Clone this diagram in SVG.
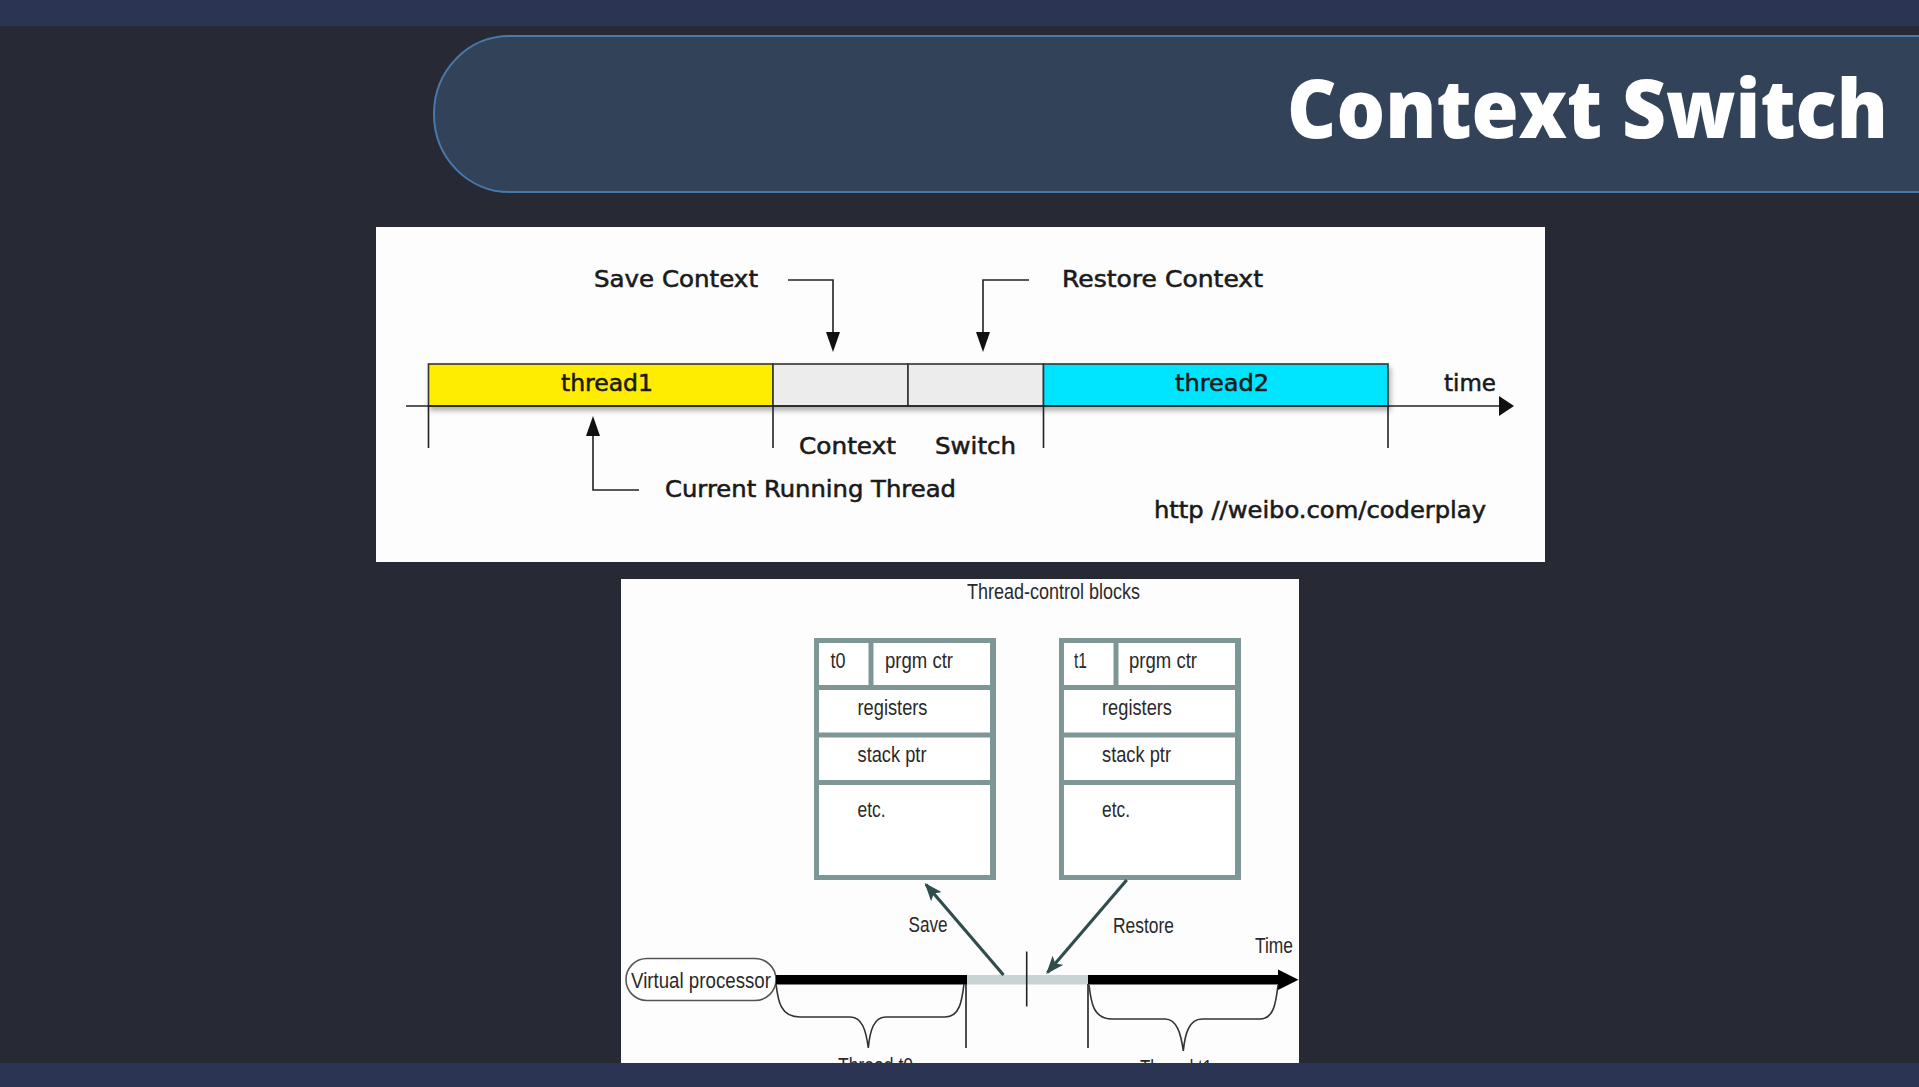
<svg xmlns="http://www.w3.org/2000/svg" width="1919" height="1087" viewBox="0 0 1919 1087">
  <style>
    .lbl { font-family: "DejaVu Sans", sans-serif; font-size: 23px; fill: #1a1a1a; stroke: #1a1a1a; stroke-width: 0.55px; }
    .ln { stroke: #222; stroke-width: 1.6; fill: none; }
    .seg { stroke: #333; stroke-width: 1.6; }
    .tcb { font-family: "Liberation Sans", Arial, sans-serif; font-size: 21.5px; fill: #2a2a2a; }
    .cell { fill: #ffffff; }
    .frame { fill: #7f9696; }
    .brace { stroke: #333; stroke-width: 1.6; fill: none; }
    .mv { stroke: #2f4d4d; stroke-width: 3.2; fill: none; marker-end: url(#tealHead); }
  </style>
  <defs>
    <marker id="tealHead" viewBox="0 0 18 14" refX="16" refY="7" markerWidth="18" markerHeight="14" markerUnits="userSpaceOnUse" orient="auto">
      <path d="M0,0 L18,7 L0,14 L4,7 z" fill="#2f4d4d"/>
    </marker>
    <filter id="barShadow" x="-5%" y="-30%" width="115%" height="180%">
      <feDropShadow dx="2" dy="4" stdDeviation="2.5" flood-color="#000" flood-opacity="0.3"/>
    </filter>
  </defs>

  <!-- page background and frame bars -->
  <rect x="0" y="0" width="1919" height="1087" fill="#272a35"/>
  <rect x="0" y="0" width="1919" height="26" fill="#2b3553"/>

  <!-- title banner -->
  <g id="title">
    <rect x="434" y="36" width="1600" height="156" rx="75" ry="78" fill="#324359" stroke="#4a78aa" stroke-width="2"/>
    <g transform="translate(1287,138) scale(1,1.16)">
      <text x="0" y="0" font-family="'Open Sans', sans-serif" font-weight="800" font-size="70" fill="#ffffff" textLength="601" lengthAdjust="spacingAndGlyphs">Context Switch</text>
    </g>
  </g>

  <!-- timeline panel -->
  <g id="timeline-panel">
    <rect x="376" y="227" width="1169" height="335" fill="#fdfdfd"/>

    <g id="bar" filter="url(#barShadow)">
      <rect id="thread1" x="428.5" y="364" width="344.5" height="42" fill="#ffed00" class="seg"/>
      <rect id="ctx-save" x="773" y="364" width="135" height="42" fill="#ececec" class="seg"/>
      <rect id="ctx-restore" x="908" y="364" width="135.5" height="42" fill="#ececec" class="seg"/>
      <rect id="thread2" x="1043.5" y="364" width="344.5" height="42" fill="#00e5ff" class="seg"/>
    </g>

    <text class="lbl" x="561" y="391" textLength="92" lengthAdjust="spacingAndGlyphs">thread1</text>
    <text class="lbl" x="1175" y="391" textLength="94" lengthAdjust="spacingAndGlyphs">thread2</text>
    <text class="lbl" x="1444" y="391" textLength="52" lengthAdjust="spacingAndGlyphs">time</text>
    <text class="lbl" x="594" y="287" textLength="164" lengthAdjust="spacingAndGlyphs">Save Context</text>
    <text class="lbl" x="1062" y="287" textLength="201" lengthAdjust="spacingAndGlyphs">Restore Context</text>
    <text class="lbl" x="799" y="454" textLength="97" lengthAdjust="spacingAndGlyphs">Context</text>
    <text class="lbl" x="935" y="454" textLength="81" lengthAdjust="spacingAndGlyphs">Switch</text>
    <text class="lbl" x="665" y="497" textLength="291" lengthAdjust="spacingAndGlyphs">Current Running Thread</text>
    <text class="lbl" x="1154" y="518" textLength="332" lengthAdjust="spacingAndGlyphs">http //weibo.com/coderplay</text>

    <g id="timeline-connectors">
      <!-- time axis -->
      <line class="ln" x1="406" y1="406" x2="1500" y2="406"/>
      <polygon points="1499,396 1514,406 1499,416" fill="#111"/>
      <!-- boundary ticks -->
      <line class="ln" x1="428.5" y1="406" x2="428.5" y2="448"/>
      <line class="ln" x1="773" y1="406" x2="773" y2="448"/>
      <line class="ln" x1="1043.5" y1="406" x2="1043.5" y2="448"/>
      <line class="ln" x1="1388" y1="406" x2="1388" y2="448"/>
      <!-- save context -->
      <path class="ln" d="M788,280 H833 V334"/>
      <polygon points="826,332 840,332 833,352" fill="#111"/>
      <!-- restore context -->
      <path class="ln" d="M1029,280 H983 V334"/>
      <polygon points="976,332 990,332 983,352" fill="#111"/>
      <!-- current running thread -->
      <path class="ln" d="M639,490 H593 V434"/>
      <polygon points="586,436 600,436 593,416" fill="#111"/>
    </g>
  </g>

  <!-- thread-control block panel -->
  <g id="tcb-panel">
    <rect x="621" y="579" width="678" height="500" fill="#fdfdfd"/>
    <text class="tcb" x="967" y="599" textLength="173" lengthAdjust="spacingAndGlyphs">Thread-control blocks</text>

    <g id="tcb-t0" transform="translate(814,638)">
      <rect class="frame" x="0" y="0" width="182" height="242"/>
      <rect class="cell" x="5" y="5" width="49.5" height="42"/>
      <rect class="cell" x="59.5" y="5" width="116.5" height="42"/>
      <rect class="cell" x="5" y="52" width="171" height="42.5"/>
      <rect class="cell" x="5" y="99.5" width="171" height="42.5"/>
      <rect class="cell" x="5" y="147" width="171" height="90"/>
      <text class="tcb" x="16.5" y="30" textLength="15" lengthAdjust="spacingAndGlyphs">t0</text>
      <text class="tcb" x="71" y="30" textLength="68" lengthAdjust="spacingAndGlyphs">prgm ctr</text>
      <text class="tcb" x="43.5" y="77" textLength="70" lengthAdjust="spacingAndGlyphs">registers</text>
      <text class="tcb" x="43.5" y="124" textLength="69" lengthAdjust="spacingAndGlyphs">stack ptr</text>
      <text class="tcb" x="43.5" y="179" textLength="28" lengthAdjust="spacingAndGlyphs">etc.</text>
    </g>

    <g id="tcb-t1" transform="translate(1059,638)">
      <rect class="frame" x="0" y="0" width="182" height="242"/>
      <rect class="cell" x="5" y="5" width="49.5" height="42"/>
      <rect class="cell" x="59.5" y="5" width="116.5" height="42"/>
      <rect class="cell" x="5" y="52" width="171" height="42.5"/>
      <rect class="cell" x="5" y="99.5" width="171" height="42.5"/>
      <rect class="cell" x="5" y="147" width="171" height="90"/>
      <text class="tcb" x="15" y="30" textLength="13" lengthAdjust="spacingAndGlyphs">t1</text>
      <text class="tcb" x="70" y="30" textLength="68" lengthAdjust="spacingAndGlyphs">prgm ctr</text>
      <text class="tcb" x="43" y="77" textLength="70" lengthAdjust="spacingAndGlyphs">registers</text>
      <text class="tcb" x="43" y="124" textLength="69" lengthAdjust="spacingAndGlyphs">stack ptr</text>
      <text class="tcb" x="43" y="179" textLength="28" lengthAdjust="spacingAndGlyphs">etc.</text>
    </g>

    <g id="virtual-processor">
      <rect x="626" y="958.5" width="150" height="42" rx="21" fill="#ffffff" stroke="#555" stroke-width="1.6"/>
      <text class="tcb" x="631" y="988" textLength="140" lengthAdjust="spacingAndGlyphs">Virtual processor</text>
    </g>

    <g id="processor-timeline">
      <rect x="776" y="975" width="191" height="9.5" fill="#000"/>
      <rect x="967" y="975" width="121" height="9.5" fill="#c8d3d3"/>
      <rect x="1088" y="975" width="191" height="9.5" fill="#000"/>
      <polygon points="1278,969.5 1298.5,979.7 1278,990" fill="#000"/>
      <line class="ln" x1="1026.7" y1="951.5" x2="1026.7" y2="1006.5"/>
      <line class="ln" x1="966" y1="984" x2="966" y2="1048"/>
      <line class="ln" x1="1088" y1="984" x2="1088" y2="1048"/>
      <path class="brace" d="M776,984 C778,1000 780,1017 800,1017 L850,1017 C862,1017 866,1030 868.3,1048 C870,1030 874,1017 886,1017 L945,1017 C960,1017 962,1000 964,984"/>
      <path class="brace" d="M1089,985 C1091,1002 1093,1019 1112,1019 L1165,1019 C1177,1019 1181,1034 1183.3,1051 C1185,1034 1189,1019 1202,1019 L1260,1019 C1274,1019 1276,1002 1278,985"/>
      <text class="tcb" x="1255" y="952.5" textLength="38" lengthAdjust="spacingAndGlyphs">Time</text>
      <text class="tcb" x="838" y="1073" textLength="75" lengthAdjust="spacingAndGlyphs">Thread t0</text>
      <text class="tcb" x="1140" y="1075" textLength="72" lengthAdjust="spacingAndGlyphs">Thread t1</text>
    </g>

    <g id="tcb-connectors">
      <line class="mv" x1="1003.5" y1="975" x2="926" y2="884.5"/>
      <line class="mv" x1="1126.7" y1="880" x2="1047.5" y2="972.5"/>
      <text class="tcb" x="908.5" y="931.5" textLength="39" lengthAdjust="spacingAndGlyphs">Save</text>
      <text class="tcb" x="1113" y="932.5" textLength="61" lengthAdjust="spacingAndGlyphs">Restore</text>
    </g>
  </g>

  <rect x="0" y="1063" width="1919" height="24" fill="#2b3452"/>
</svg>
